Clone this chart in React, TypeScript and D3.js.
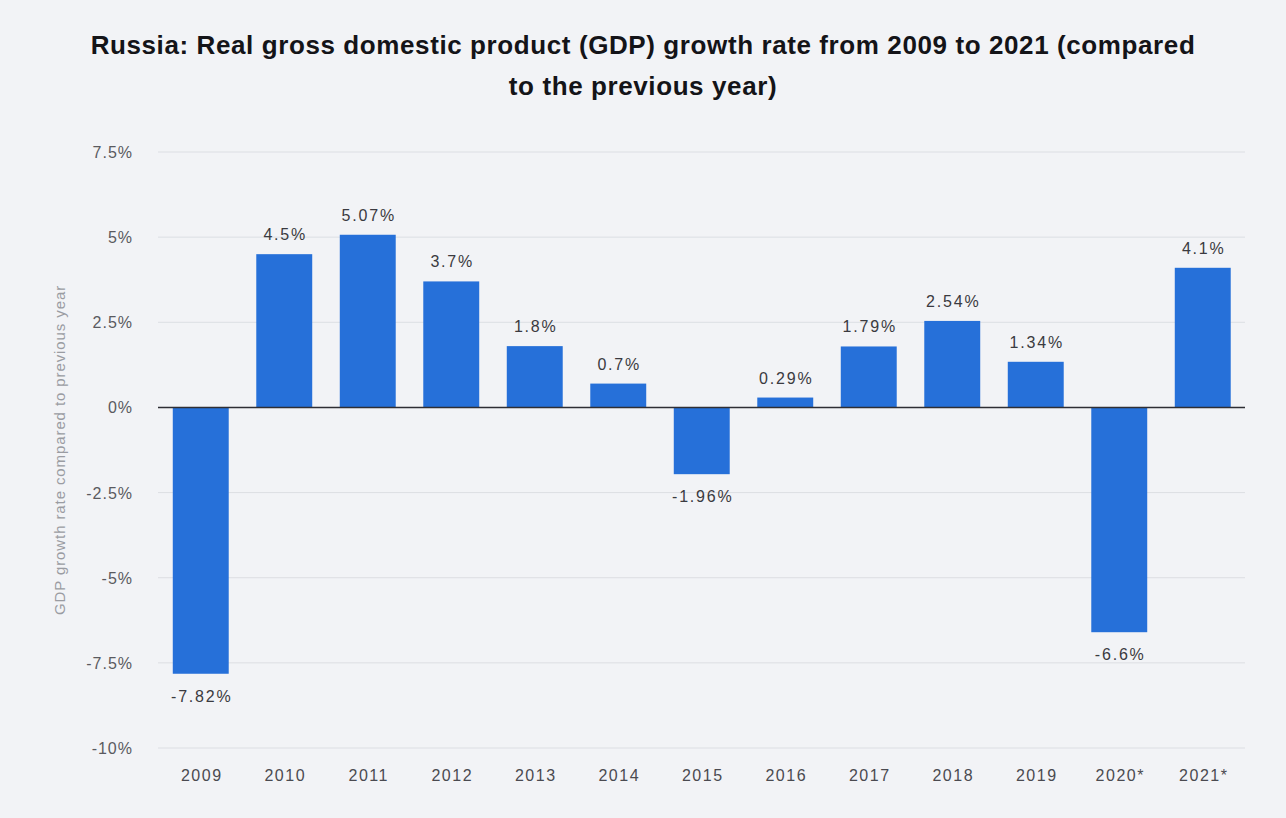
import React from "react";
import * as d3 from "d3";

const years = ["2009", "2010", "2011", "2012", "2013", "2014", "2015", "2016", "2017", "2018", "2019", "2020*", "2021*"];
const growth = [-7.82, 4.5, 5.07, 3.7, 1.8, 0.7, -1.96, 0.29, 1.79, 2.54, 1.34, -6.6, 4.1];
const valueLabels = ["-7.82%", "4.5%", "5.07%", "3.7%", "1.8%", "0.7%", "-1.96%", "0.29%", "1.79%", "2.54%", "1.34%", "-6.6%", "4.1%"];
const yTicks = [7.5, 5, 2.5, 0, -2.5, -5, -7.5, -10];
const yTickLabels = ["7.5%", "5%", "2.5%", "0%", "-2.5%", "-5%", "-7.5%", "-10%"];
const titleLines = [
  "Russia: Real gross domestic product (GDP) growth rate from 2009 to 2021 (compared",
  "to the previous year)",
];
const yAxisTitle = "GDP growth rate compared to previous year";

const W = 1286;
const H = 818;
const FONT = "'Liberation Sans', Arial, Helvetica, sans-serif";

export default function App() {
  const x = d3.scaleBand<string>().domain(years).range([159, 1244.5]).paddingInner(0.33).paddingOuter(0.165);
  const y = d3.scaleLinear().domain([-10, 7.5]).range([748, 152]);
  const gridX0 = 158;
  const gridX1 = 1245;

  return (
    <svg width={W} height={H} style={{ position: "absolute", left: 0, top: 0 }} fontFamily={FONT}>
      <rect x={0} y={0} width={W} height={H} fill="#f2f3f6" />
      {titleLines.map((t, i) => (
        <text
          key={i}
          x={643}
          y={54 + i * 41}
          textAnchor="middle"
          fontSize={26}
          fontWeight="bold"
          letterSpacing={0.6}
          fill="#141418"
        >
          {t}
        </text>
      ))}
      {yTicks.map((v, i) => (
        <g key={v}>
          {v !== 0 && (
            <line x1={gridX0} x2={gridX1} y1={y(v)} y2={y(v)} stroke="#dcdee3" strokeWidth={1} />
          )}
          <text x={133} y={y(v) + 6} textAnchor="end" fontSize={16} letterSpacing={1} fill="#5a5a60">
            {yTickLabels[i]}
          </text>
        </g>
      ))}
      <text
        transform={`translate(65, ${(y(-10) + y(7.5)) / 2}) rotate(-90)`}
        textAnchor="middle"
        fontSize={15}
        letterSpacing={0.9}
        fill="#9a9ca2"
      >
        {yAxisTitle}
      </text>
      {years.map((yr, i) => {
        const v = growth[i];
        const bx = x(yr)!;
        const top = y(Math.max(0, v));
        const h = Math.abs(y(v) - y(0));
        const cx = bx + x.bandwidth() / 2;
        return (
          <g key={yr}>
            <rect x={bx} y={top} width={x.bandwidth()} height={h} fill="#2670d9" />
            <text
              x={cx + 1}
              y={v >= 0 ? y(v) - 14 : y(v) + 28}
              textAnchor="middle"
              fontSize={16}
              letterSpacing={1.8}
              fill="#3a3a40"
            >
              {valueLabels[i]}
            </text>
            <text x={cx + 1} y={781} textAnchor="middle" fontSize={16} letterSpacing={1.5} fill="#4a4a50">
              {yr}
            </text>
          </g>
        );
      })}
      <line x1={gridX0} x2={gridX1} y1={y(0)} y2={y(0)} stroke="#2e2e34" strokeWidth={1.5} />
    </svg>
  );
}
